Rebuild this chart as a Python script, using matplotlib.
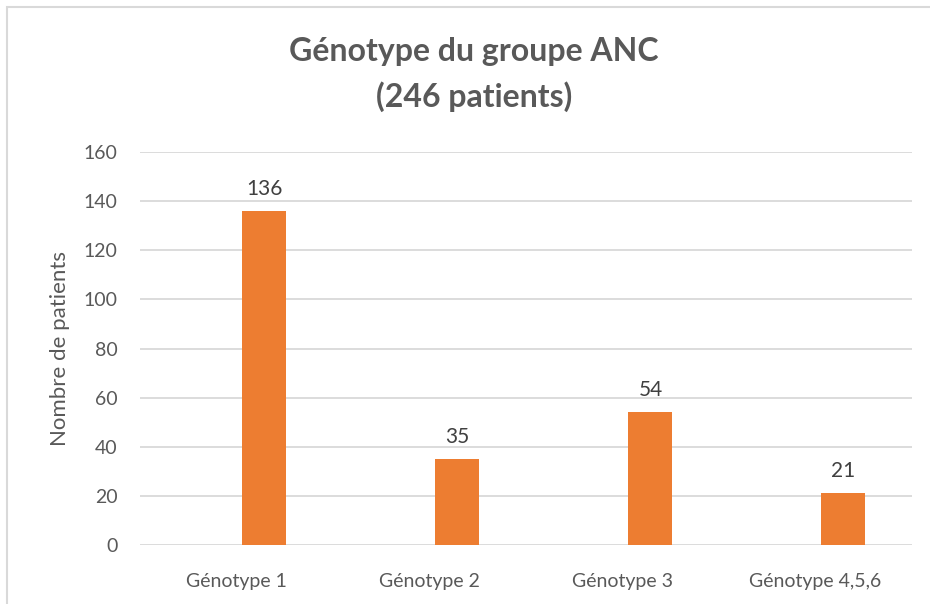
import matplotlib.pyplot as plt
import numpy as np
from matplotlib.patches import Rectangle

categories = ["Génotype 1", "Génotype 2", "Génotype 3", "Génotype 4,5,6"]
patients = [136, 35, 54, 21]
yticks = [0, 20, 40, 60, 80, 100, 120, 140, 160]

plt.rcParams['font.family'] = ['Lato', 'DejaVu Sans']
grey = '#595959'

fig = plt.figure(figsize=(9.3, 6.04), dpi=100)
# chart frame, like the Excel chart border
fig.patches.append(Rectangle((7/930, -0.1), 1.0, 1.1 - 7/604, transform=fig.transFigure,
                             fill=False, edgecolor='#D9D9D9', linewidth=1.5))

ax = fig.add_axes([140/930, 59/604, 772/930, 393/604])
x = np.arange(len(categories))
bars = ax.bar(x + 0.145, patients, width=0.228, color='#ED7D31', zorder=3)
for b, v in zip(bars, patients):
    ax.text(b.get_x() + b.get_width() / 2, v + 5, str(v), ha='center', va='bottom',
            fontsize=15, color='#404040')

ax.set_xlim(-0.5, 3.5)
ax.set_ylim(0, 160)
ax.set_yticks(yticks)
ax.set_xticks(x)
ax.set_xticklabels(categories)
ax.tick_params(axis='both', length=0, labelsize=14, colors=grey)
ax.tick_params(axis='y', pad=16)
ax.tick_params(axis='x', pad=20)
ax.grid(axis='y', color='#D9D9D9', linewidth=1.3, zorder=0)
for s in ax.spines.values():
    s.set_visible(False)
ax.set_ylabel("Nombre de patients", fontsize=16, color=grey, labelpad=10)

fig.text(474/930, 1 - 52/604, "Génotype du groupe ANC", ha='center', va='center',
         fontsize=23, fontweight='bold', color=grey)
fig.text(474/930, 1 - 97/604, "(246 patients)", ha='center', va='center',
         fontsize=23, fontweight='bold', color=grey)

fig.savefig("out.png", dpi=100)
